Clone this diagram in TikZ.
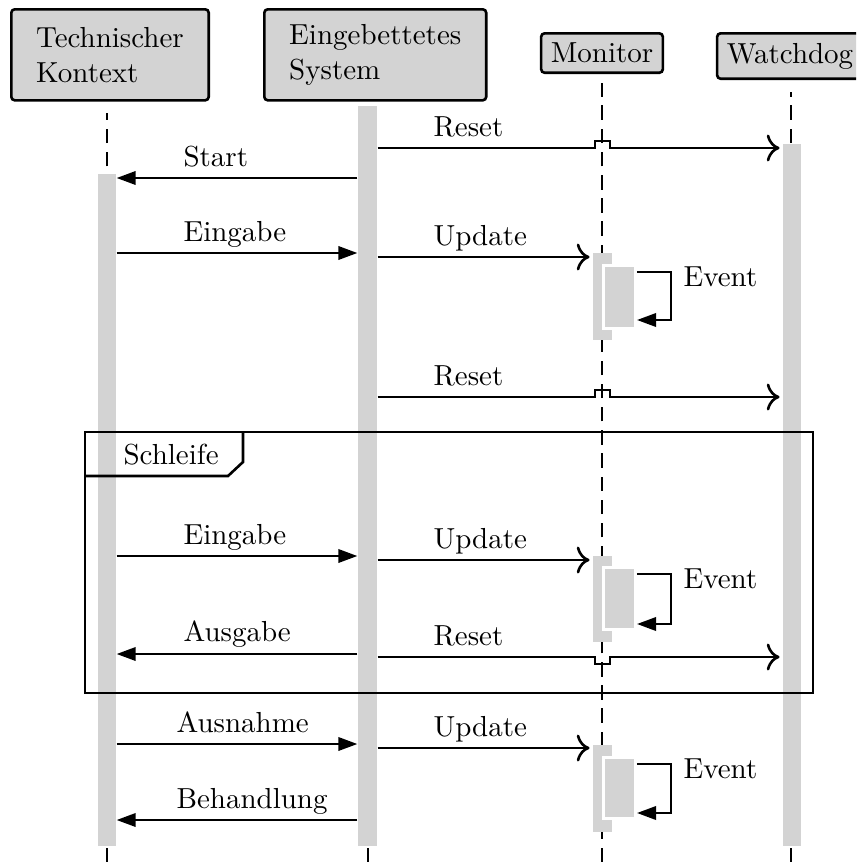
\documentclass[tikz,border=0pt]{standalone}
\usepackage{amsmath}
\usepackage{tikz}
\usetikzlibrary{arrows.meta}
\usetikzlibrary{fit}

\definecolor{actgray}{HTML}{D3D3D3}

\begin{document}
\begin{tikzpicture}[x=0.345pt, y=-0.345pt,
		header/.style={draw, line width=0.9pt, fill=actgray, rounded corners=1.2pt, align=left},
		bigheader/.style={header, anchor=north west, inner xsep=8.6pt, minimum height=31.4pt},
		smallheader/.style={header, anchor=north},
		lifeline/.style={line width=0.9pt, dash pattern=on 5pt off 3pt},
		actbar/.style={fill=actgray, inner sep=0pt},
		subbar/.style={actbar, draw=white, line width=1pt},
		sync/.style={line width=0.9pt, -{Triangle[length=6.6pt, width=4.6pt]}},
		async/.style={line width=0.9pt, -{Computer Modern Rightarrow[length=4.4pt, width=9.3pt]}, shorten >=1pt},
		msglabel/.style={anchor=base west, inner sep=0pt},
		frame/.style={line width=0.9pt}]
		\clip (0,0) rectangle (856,862);
		% Kopfzeilen
		\node[bigheader] (tk) at (10,8) {Technischer\\Kontext};
		\node[bigheader] (es) at (263,8) {Eingebettetes\\System};
		\node[smallheader] (mo) at (602,32) {Monitor};
		\node[smallheader] (wd) at (790,32) {Watchdog};
		% Lebenslinien
		\coordinate (tkTop) at (107,113);
		\coordinate (esTop) at (368,106);
		\coordinate (moTop) at (602,83);
		\coordinate (wdTop) at (791,92);
		\foreach \who in {tk,es,mo,wd}
			\draw[lifeline] (\who Top |- 0,862) -- (\who Top);
		% Aktivierungen
		\node[actbar, fit={(98,174) (116,846)}] (tkBar) {};
		\node[actbar, fit={(358,106) (377,846)}] (esBar) {};
		\node[actbar, fit={(783,144) (801,846)}] (wdBar) {};
		\node[actbar, fit={(593,253) (612,340)}] (mo1) {};
		\node[subbar, fit={(603.5,265.5) (635.5,328.5)}] (mo1in) {};
		\node[actbar, fit={(593,556) (612,642)}] (mo2) {};
		\node[subbar, fit={(603.5,567.5) (635.5,629.5)}] (mo2in) {};
		\node[actbar, fit={(593,745) (612,832)}] (mo3) {};
		\node[subbar, fit={(603.5,757.5) (635.5,818.5)}] (mo3in) {};
		% Nachrichten
		\draw[async] (esBar.east |- 0,148) -- (595,148) -- (595,141) -- (610,141) -- (610,148) -- (wdBar.west |- 0,148);
		\node[msglabel] (reset1) at (433,136) {Reset};
		\draw[sync] (esBar.west |- 0,178) -- (tkBar.east |- 0,178);
		\node[msglabel] (start) at (183,166) {Start};
		\draw[sync] (tkBar.east |- 0,253) -- (esBar.west |- 0,253);
		\node[msglabel] (in1) at (183,241) {Eingabe};
		\draw[async] (esBar.east |- 0,257) -- (mo1.west |- 0,257);
		\node[msglabel] (upd1) at (433,245) {Update};
		\draw[sync] (mo1in.east |- 0,272) -- (671,272) -- (671,320) -- (mo1in.east |- 0,320);
		\node[msglabel] (ev1) at (683,286) {Event};
		\draw[async] (esBar.east |- 0,397) -- (595,397) -- (595,390) -- (610,390) -- (610,397) -- (wdBar.west |- 0,397);
		\node[msglabel] (reset2) at (433,385) {Reset};
		% Schleife
		\draw[frame] (85,432) rectangle (813,693);
		\draw[frame] (85,476) -- (228,476) -- (243,462) -- (243,432);
		\node[msglabel] (loop) at (123,464) {Schleife};
		\draw[sync] (tkBar.east |- 0,556) -- (esBar.west |- 0,556);
		\node[msglabel] (in2) at (183,544) {Eingabe};
		\draw[async] (esBar.east |- 0,560) -- (mo2.west |- 0,560);
		\node[msglabel] (upd2) at (433,548) {Update};
		\draw[sync] (mo2in.east |- 0,574) -- (671,574) -- (671,624) -- (mo2in.east |- 0,624);
		\node[msglabel] (ev2) at (683,588) {Event};
		\draw[sync] (esBar.west |- 0,654) -- (tkBar.east |- 0,654);
		\node[msglabel] (out) at (183,641) {Ausgabe};
		\draw[async] (esBar.east |- 0,657) -- (595,657) -- (595,664) -- (610,664) -- (610,657) -- (wdBar.west |- 0,657);
		\node[msglabel] (reset3) at (433,645) {Reset};
		% nach der Schleife
		\draw[sync] (tkBar.east |- 0,744) -- (esBar.west |- 0,744);
		\node[msglabel] (exc) at (176,732) {Ausnahme};
		\draw[async] (esBar.east |- 0,748) -- (mo3.west |- 0,748);
		\node[msglabel] (upd3) at (433,736) {Update};
		\draw[sync] (mo3in.east |- 0,764) -- (671,764) -- (671,813) -- (mo3in.east |- 0,813);
		\node[msglabel] (ev3) at (683,778) {Event};
		\draw[sync] (esBar.west |- 0,820) -- (tkBar.east |- 0,820);
		\node[msglabel] (hdl) at (176,808) {Behandlung};
	\end{tikzpicture}
\end{document}
